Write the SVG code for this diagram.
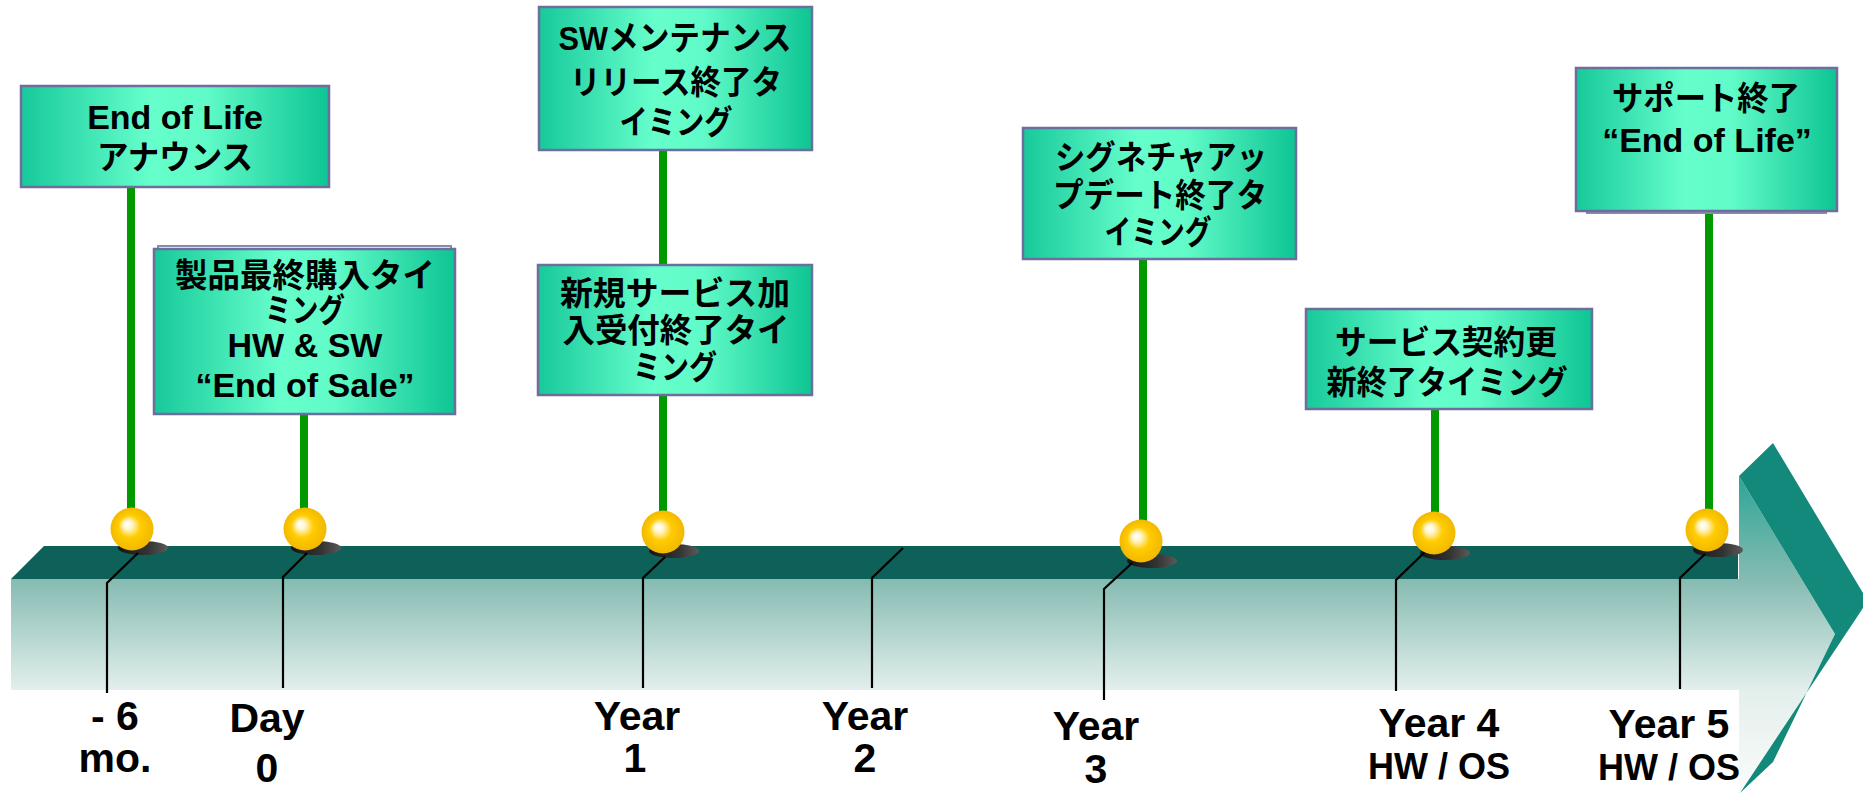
<svg xmlns="http://www.w3.org/2000/svg" width="1863" height="793" viewBox="0 0 1863 793">
<defs>
<linearGradient id="boxGrad" x1="0" y1="0" x2="1" y2="0">
<stop offset="0" stop-color="#17C99A"/>
<stop offset="0.42" stop-color="#66FFCC"/>
<stop offset="0.6" stop-color="#60FBC8"/>
<stop offset="1" stop-color="#0DC593"/>
</linearGradient>
<linearGradient id="frontGrad" gradientUnits="userSpaceOnUse" x1="0" y1="476" x2="0" y2="793">
<stop offset="0" stop-color="#2DA595"/>
<stop offset="0.325" stop-color="#85BBB2"/>
<stop offset="0.675" stop-color="#E3EFEC"/>
<stop offset="1" stop-color="#FAFCFB"/>
</linearGradient>
<radialGradient id="ballGrad" cx="0.5" cy="0.5" r="0.5" fx="0.38" fy="0.38">
<stop offset="0" stop-color="#FFFFFF"/>
<stop offset="0.2" stop-color="#FFF6D0"/>
<stop offset="0.52" stop-color="#FFCC00"/>
<stop offset="1" stop-color="#F2B800"/>
</radialGradient>
<linearGradient id="shadowGrad" x1="0" y1="0" x2="1" y2="0">
<stop offset="0" stop-color="#151515"/>
<stop offset="0.6" stop-color="#333333"/>
<stop offset="1" stop-color="#5A5A5A"/>
</linearGradient>
<style>
.box { fill: url(#boxGrad); stroke: #6E6E9E; stroke-width: 2.5; }
.boxback { fill: none; stroke: #8A8AB0; stroke-width: 2; }
.t { font-family: "Liberation Sans", "Noto Sans CJK JP", sans-serif; font-weight: bold; fill: #000; text-anchor: middle; }
.bt { font-size: 34px; }
.jp { font-size: 33px; }
.lbl { font-size: 41px; }
.sub { font-size: 36px; }
.stem { stroke: #009900; stroke-width: 8; fill: none; }
.tick { stroke: #000; stroke-width: 2.2; fill: none; }
.ball { fill: url(#ballGrad); }
.shadow { fill: url(#shadowGrad); }
</style>
</defs>
<rect x="0" y="0" width="1863" height="793" fill="#FFFFFF"/>

<g id="timeline-bar">
<polygon points="44,546 1738,546 1738,579 11,579" fill="#0D6158"/>
<rect x="11" y="579" width="1728" height="111" fill="url(#frontGrad)"/>
<polygon points="1739,476 1835,634 1773,762 1740,793 1739,793" fill="url(#frontGrad)"/>
<polygon points="1739,476 1773,443 1863,593 1863,608 1740,793 1773,762 1835,634" fill="#12897A"/>
<line x1="1835" y1="634" x2="1863" y2="607" stroke="#17957F" stroke-width="1"/>
</g>

<g id="shadows">
<ellipse class="shadow" cx="143" cy="548" rx="25" ry="7"/>
<ellipse class="shadow" cx="316" cy="548" rx="25" ry="7"/>
<ellipse class="shadow" cx="674" cy="551" rx="25" ry="7"/>
<ellipse class="shadow" cx="1152" cy="561" rx="25" ry="7"/>
<ellipse class="shadow" cx="1445" cy="553" rx="25" ry="7"/>
<ellipse class="shadow" cx="1718" cy="550" rx="25" ry="7"/>
</g>

<g id="ticks">
<polyline class="tick" points="138,553 107,583 107,693"/>
<polyline class="tick" points="307,553 283,577 283,688"/>
<polyline class="tick" points="665,557 643,578 643,688"/>
<polyline class="tick" points="903,548 872,578 872,688"/>
<polyline class="tick" points="1132,563 1104,589 1104,700"/>
<polyline class="tick" points="1427,550 1396,580 1396,691"/>
<polyline class="tick" points="1705,554 1680,578 1680,689"/>
</g>

<g id="connectors">
<line class="stem" x1="131" y1="187" x2="131" y2="515"/>
<line class="stem" x1="304" y1="414" x2="304" y2="515"/>
<line class="stem" x1="663" y1="150" x2="663" y2="517"/>
<line class="stem" x1="1143" y1="259" x2="1143" y2="527"/>
<line class="stem" x1="1435" y1="409" x2="1435" y2="518"/>
<line class="stem" x1="1709" y1="211" x2="1709" y2="515"/>
</g>

<g id="balls">
<circle class="ball" cx="132" cy="529" r="21.5"/>
<circle class="ball" cx="305" cy="529" r="21.5"/>
<circle class="ball" cx="663" cy="532" r="21.5"/>
<circle class="ball" cx="1141" cy="541" r="21.5"/>
<circle class="ball" cx="1434" cy="533" r="21.5"/>
<circle class="ball" cx="1707" cy="530" r="21.5"/>
</g>

<g id="node-eol-announce">
<rect class="box" x="21" y="86" width="308" height="101"/>
<text class="t bt" x="175" y="129">End of Life</text>
<text class="t jp" x="175" y="169" textLength="156" lengthAdjust="spacingAndGlyphs">アナウンス</text>
</g>

<g id="node-end-of-sale">
<rect class="boxback" x="158" y="246" width="293" height="160"/>
<rect class="box" x="154" y="249" width="301" height="165"/>
<text class="t jp" x="305" y="287" textLength="260" lengthAdjust="spacingAndGlyphs">製品最終購入タイ</text>
<text class="t jp" x="305" y="322" textLength="80" lengthAdjust="spacingAndGlyphs">ミング</text>
<text class="t bt" x="305" y="357">HW &amp; SW</text>
<text class="t bt" x="305" y="397">“End of Sale”</text>
</g>

<g id="node-sw-maintenance">
<rect class="box" x="539" y="7" width="273" height="143"/>
<text class="t bt" x="675" y="50" textLength="233" lengthAdjust="spacingAndGlyphs">SWメンテナンス</text>
<text class="t jp" x="676" y="94" textLength="212" lengthAdjust="spacingAndGlyphs">リリース終了タ</text>
<text class="t jp" x="676" y="134" textLength="113" lengthAdjust="spacingAndGlyphs">イミング</text>
</g>

<g id="node-new-service">
<rect class="box" x="538" y="265" width="274" height="130"/>
<text class="t jp" x="675" y="305" textLength="230" lengthAdjust="spacingAndGlyphs">新規サービス加</text>
<text class="t jp" x="676" y="342" textLength="227" lengthAdjust="spacingAndGlyphs">入受付終了タイ</text>
<text class="t jp" x="675" y="379" textLength="84" lengthAdjust="spacingAndGlyphs">ミング</text>
</g>

<g id="node-signature">
<rect class="box" x="1023" y="128" width="273" height="131"/>
<text class="t jp" x="1161" y="169" textLength="212" lengthAdjust="spacingAndGlyphs">シグネチャアッ</text>
<text class="t jp" x="1160" y="207" textLength="214" lengthAdjust="spacingAndGlyphs">プデート終了タ</text>
<text class="t jp" x="1158" y="244" textLength="107" lengthAdjust="spacingAndGlyphs">イミング</text>
</g>

<g id="node-service-renewal">
<rect class="box" x="1306" y="309" width="286" height="100"/>
<text class="t jp" x="1446" y="354" textLength="222" lengthAdjust="spacingAndGlyphs">サービス契約更</text>
<text class="t jp" x="1447" y="394" textLength="241" lengthAdjust="spacingAndGlyphs">新終了タイミング</text>
</g>

<g id="node-support-end">
<rect class="boxback" x="1587" y="70" width="239" height="143"/>
<rect class="box" x="1576" y="68" width="261" height="143"/>
<text class="t jp" x="1706" y="110" textLength="188" lengthAdjust="spacingAndGlyphs">サポート終了</text>
<text class="t bt" x="1707" y="152">“End of Life”</text>
</g>

<g id="axis-labels">
<text class="t lbl" x="115" y="730">- 6</text>
<text class="t lbl" x="115" y="772">mo.</text>
<text class="t lbl" x="267" y="732">Day</text>
<text class="t lbl" x="267" y="782">0</text>
<text class="t lbl" x="637" y="730">Year</text>
<text class="t lbl" x="635" y="772">1</text>
<text class="t lbl" x="865" y="730">Year</text>
<text class="t lbl" x="865" y="772">2</text>
<text class="t lbl" x="1096" y="740">Year</text>
<text class="t lbl" x="1096" y="783">3</text>
<text class="t lbl" x="1439" y="737">Year 4</text>
<text class="t sub" x="1439" y="779">HW / OS</text>
<text class="t lbl" x="1669" y="738">Year 5</text>
<text class="t sub" x="1669" y="780">HW / OS</text>
</g>
</svg>
